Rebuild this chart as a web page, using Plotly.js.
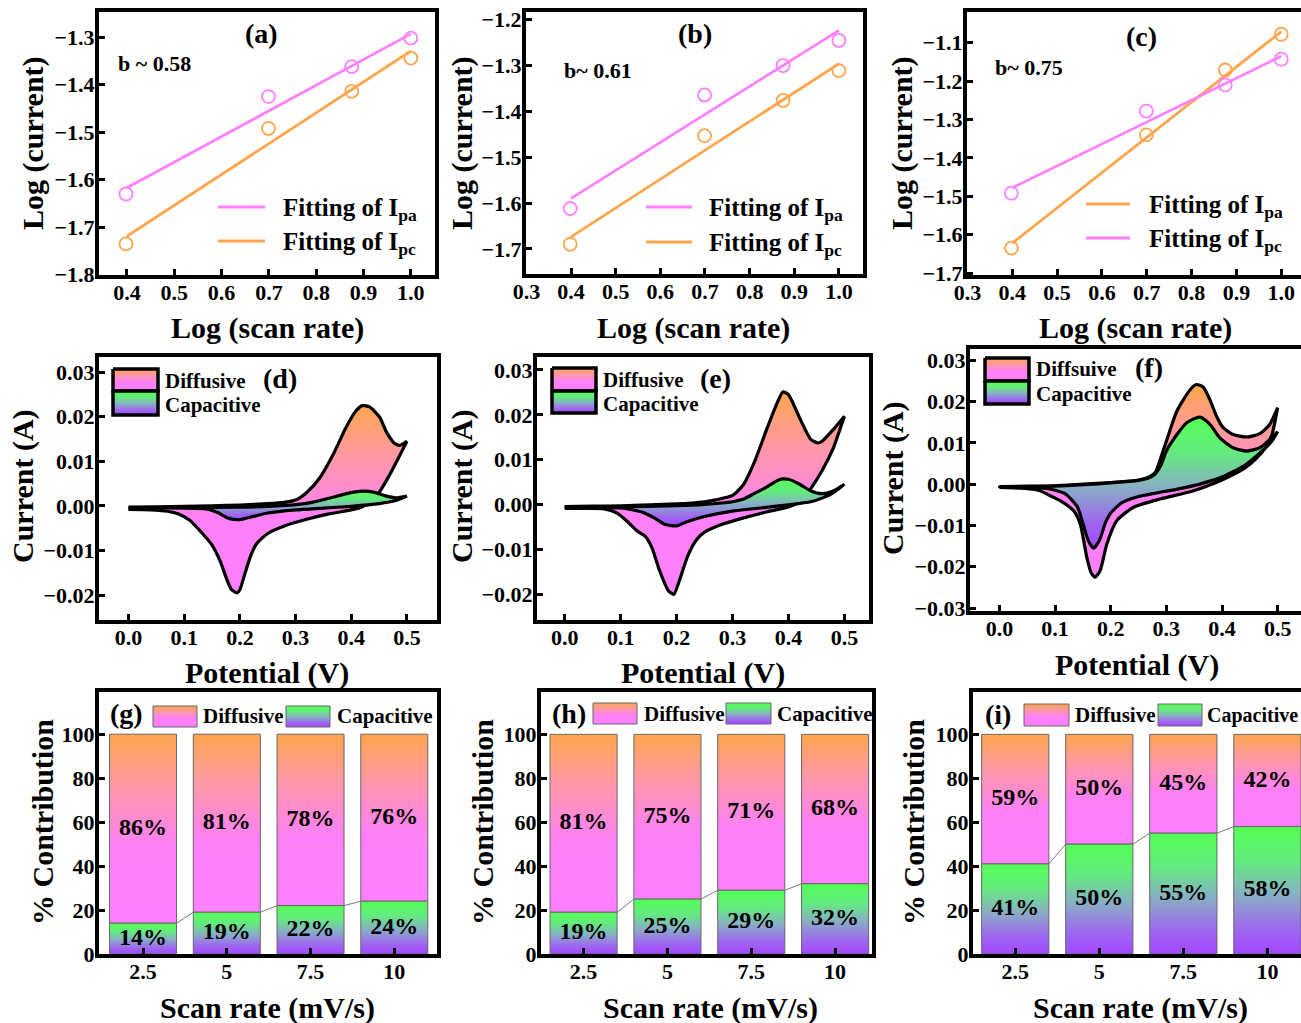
<!DOCTYPE html>
<html><head><meta charset="utf-8">
<script src="https://cdn.plot.ly/plotly-3.0.1.min.js"></script>
<style>html,body{margin:0;padding:0;background:#fff}</style>
</head><body><div id="chart" style="width:1301px;height:1023px"></div>
<script>
// ---------------- DATA ----------------
// (a)-(c): log(scan rate) vs log(peak current)
const logRate = [0.398, 0.699, 0.875, 1.0];
const fitEnds = [0.4, 1.0];
const aIpa = [-1.630, -1.425, -1.362, -1.302];
const aIpc = [-1.735, -1.492, -1.414, -1.344];
const aFitIpa = [-1.617, -1.293];
const aFitIpc = [-1.719, -1.329];
const bIpa = [-1.612, -1.364, -1.300, -1.245];
const bIpc = [-1.690, -1.453, -1.376, -1.311];
const bFitIpa = [-1.590, -1.223];
const bFitIpc = [-1.674, -1.296];
const cIpa = [-1.635, -1.340, -1.171, -1.078];
const cIpc = [-1.492, -1.278, -1.210, -1.143];
const cFitIpa = [-1.622, -1.071];
const cFitIpc = [-1.478, -1.135];
const bLabels = ['b ~ 0.58', 'b~ 0.61', 'b~ 0.75'];

// (d) CV: total (upper / lower branch) and capacitive loop
const dUpV = [0.00, 0.05, 0.10, 0.15, 0.20, 0.25, 0.28, 0.30, 0.32, 0.343, 0.367, 0.391, 0.409, 0.42, 0.433, 0.451, 0.463, 0.478, 0.487, 0.50];
const dUpI = [-0.0003, -0.0002, -0.0001, 0.0000, 0.0002, 0.0005, 0.0008, 0.0013, 0.0030, 0.0062, 0.0114, 0.0177, 0.0214, 0.0225, 0.0222, 0.0199, 0.0166, 0.0140, 0.0136, 0.0145];
const dLoV = [0.50, 0.49, 0.48, 0.47, 0.46, 0.45, 0.44, 0.42, 0.40, 0.36, 0.32, 0.28, 0.25, 0.23, 0.22, 0.21, 0.20, 0.195, 0.185, 0.175, 0.165, 0.15, 0.13, 0.11, 0.09, 0.07, 0.04, 0.00];
const dLoI = [0.0145, 0.0120, 0.0096, 0.0072, 0.0050, 0.0030, 0.0015, -0.0002, -0.0009, -0.0018, -0.0030, -0.0045, -0.0062, -0.0085, -0.0110, -0.0148, -0.0188, -0.0195, -0.0188, -0.0160, -0.0125, -0.0088, -0.0058, -0.0032, -0.0018, -0.0012, -0.0009, -0.0008];
const dCapUpV = [0.00, 0.10, 0.20, 0.25, 0.30, 0.33, 0.36, 0.39, 0.42, 0.44, 0.46, 0.48, 0.50];
const dCapUpI = [-0.0004, -0.0004, -0.0003, -0.0001, 0.0003, 0.0008, 0.0017, 0.0027, 0.0033, 0.0031, 0.0023, 0.0018, 0.0022];
const dCapLoV = [0.50, 0.48, 0.45, 0.40, 0.35, 0.30, 0.25, 0.22, 0.20, 0.18, 0.16, 0.14, 0.10, 0.00];
const dCapLoI = [0.0022, 0.0012, 0.0005, -0.0001, -0.0005, -0.0009, -0.0016, -0.0025, -0.0031, -0.0028, -0.0015, -0.0007, -0.0005, -0.0005];

// (e)
const eUpV = [0.00, 0.05, 0.10, 0.15, 0.20, 0.25, 0.27, 0.30, 0.32, 0.34, 0.36, 0.38, 0.39, 0.40, 0.42, 0.44, 0.453, 0.46, 0.48, 0.50];
const eUpI = [-0.0005, -0.0004, -0.0003, -0.0001, 0.0001, 0.0006, 0.0010, 0.0020, 0.0045, 0.0097, 0.0164, 0.0227, 0.0251, 0.0245, 0.0193, 0.0145, 0.0137, 0.0141, 0.0167, 0.0197];
const eLoV = [0.50, 0.49, 0.48, 0.46, 0.44, 0.43, 0.42, 0.40, 0.36, 0.32, 0.28, 0.25, 0.235, 0.22, 0.205, 0.195, 0.185, 0.17, 0.156, 0.144, 0.129, 0.111, 0.093, 0.07, 0.04, 0.00];
const eLoI = [0.0197, 0.0160, 0.0125, 0.0075, 0.0035, 0.0018, 0.0006, -0.0006, -0.0017, -0.0030, -0.0045, -0.0062, -0.0080, -0.0115, -0.0170, -0.0201, -0.0192, -0.0149, -0.0097, -0.0071, -0.0059, -0.0037, -0.0019, -0.0010, -0.0009, -0.0009];
const eCapUpV = [0.00, 0.10, 0.20, 0.25, 0.30, 0.32, 0.34, 0.36, 0.38, 0.39, 0.40, 0.42, 0.44, 0.46, 0.48, 0.50];
const eCapUpI = [-0.0005, -0.0005, -0.0003, 0.0000, 0.0006, 0.0012, 0.0025, 0.0038, 0.0053, 0.0057, 0.0056, 0.0045, 0.0030, 0.0024, 0.0030, 0.0045];
const eCapLoV = [0.50, 0.48, 0.46, 0.44, 0.40, 0.35, 0.30, 0.25, 0.22, 0.20, 0.18, 0.16, 0.14, 0.12, 0.10, 0.00];
const eCapLoI = [0.0045, 0.0026, 0.0014, 0.0006, -0.0001, -0.0008, -0.0015, -0.0027, -0.0038, -0.0048, -0.0045, -0.0030, -0.0018, -0.0012, -0.0008, -0.0006];

// (f)
const fUpV = [0.00, 0.05, 0.10, 0.15, 0.20, 0.25, 0.27, 0.28, 0.292, 0.30, 0.319, 0.343, 0.354, 0.366, 0.378, 0.39, 0.402, 0.42, 0.444, 0.468, 0.486, 0.50];
const fUpI = [-0.0006, -0.0005, -0.0004, 0.0000, 0.0004, 0.0010, 0.0018, 0.0028, 0.0072, 0.0104, 0.0177, 0.0229, 0.0241, 0.0235, 0.0205, 0.0165, 0.0137, 0.0120, 0.0114, 0.0122, 0.0145, 0.0185];
const fLoV = [0.50, 0.495, 0.49, 0.48, 0.46, 0.44, 0.42, 0.40, 0.349, 0.289, 0.241, 0.211, 0.193, 0.181, 0.172, 0.165, 0.157, 0.145, 0.133, 0.109, 0.091, 0.07, 0.04, 0.00];
const fLoI = [0.0185, 0.0150, 0.0120, 0.0092, 0.0060, 0.0038, 0.0023, 0.0010, -0.0016, -0.0036, -0.0056, -0.0088, -0.0145, -0.0209, -0.0225, -0.0215, -0.0177, -0.0096, -0.0064, -0.0040, -0.0028, -0.0015, -0.0010, -0.0008];
const fCapUpV = [0.00, 0.10, 0.20, 0.25, 0.27, 0.28, 0.29, 0.30, 0.319, 0.337, 0.36, 0.378, 0.396, 0.42, 0.444, 0.468, 0.492, 0.50];
const fCapUpI = [-0.0007, -0.0005, 0.0003, 0.0009, 0.0016, 0.0025, 0.0045, 0.0080, 0.0120, 0.0149, 0.0162, 0.0145, 0.0112, 0.0088, 0.0080, 0.0088, 0.0116, 0.0127];
const fCapLoV = [0.50, 0.49, 0.48, 0.46, 0.44, 0.42, 0.40, 0.36, 0.32, 0.28, 0.25, 0.22, 0.20, 0.19, 0.18, 0.169, 0.16, 0.15, 0.14, 0.12, 0.10, 0.08, 0.00];
const fCapLoI = [0.0127, 0.0105, 0.0090, 0.0066, 0.0045, 0.0030, 0.0017, 0.0000, -0.0012, -0.0022, -0.0030, -0.0045, -0.0070, -0.0095, -0.0135, -0.0155, -0.0138, -0.0095, -0.0055, -0.0025, -0.0015, -0.0010, -0.0007];

// (g)-(i): % contribution
const rateLabels = ['2.5', '5', '7.5', '10'];
const gDiff = [86, 81, 78, 76];
const gCap  = [14, 19, 22, 24];
const hDiff = [81, 75, 71, 68];
const hCap  = [19, 25, 29, 32];
const iDiff = [59, 50, 45, 42];
const iCap  = [41, 50, 55, 58];

// ---------------- STYLE / LAYOUT ----------------
const W = 1301, H = 1023;
const FONT = 'Liberation Serif';
const PINK = '#FF80FF', ORANGE = '#FFA64D';
const diffScale = [[0, '#FF80FF'], [0.4, '#FF80F8'], [0.72, '#FF98A8'], [1, '#FFA64D']];
const capScale  = [[0, '#A347FF'], [0.2, '#9E68F0'], [0.47, '#88B0C4'], [0.72, '#64EA80'], [1, '#55FF55']];

function aid(n) { return n === 1 ? '' : String(n); }
const boxes = {
  1: {x: [99, 435],  y: [12, 275],  xr: [0.341, 1.051], yr: [-1.8005, -1.247]},
  2: {x: [526, 863], y: [12, 274],  xr: [0.299, 1.054], yr: [-1.755, -1.183]},
  3: {x: [967, 1301], y: [12, 275], xr: [0.299, 1.044], yr: [-1.705, -1.02]},
  4: {x: [99, 437],  y: [357, 620], xr: [-0.053, 0.554], yr: [-0.0256, 0.0334]},
  5: {x: [537, 869], y: [357, 620], xr: [-0.0495, 0.544], yr: [-0.0258, 0.0329]},
  6: {x: [970, 1301], y: [349, 611], xr: [-0.053, 0.542], yr: [-0.0307, 0.0327]},
  7: {x: [99, 437],  y: [692, 954], xr: [-0.526, 3.51], yr: [-0.01, 119.2]},
  8: {x: [541, 872], y: [692, 954], xr: [-0.508, 3.44], yr: [-0.01, 119.3]},
  9: {x: [973, 1301], y: [692, 954], xr: [-0.503, 3.40], yr: [-0.01, 119.3]}
};
const tickFont = {family: FONT, size: 22, color: 'black', weight: 'bold'};
const layout = {
  width: W, height: H, margin: {l: 0, r: 0, t: 0, b: 0},
  paper_bgcolor: 'white', plot_bgcolor: 'rgba(0,0,0,0)',
  showlegend: false, hovermode: false,
  annotations: [], shapes: []
};
for (let n = 1; n <= 9; n++) {
  const b = boxes[n];
  const common = {showline: true, linewidth: 4, linecolor: 'black', mirror: true,
    ticks: 'inside', ticklen: 6, tickwidth: 3, tickcolor: 'black',
    showgrid: false, zeroline: false, tickfont: tickFont, fixedrange: true};
  const xa = Object.assign({}, common, {domain: [b.x[0] / W, b.x[1] / W], range: b.xr, anchor: 'y' + aid(n), ticklabelstandoff: -5});
  const ya = Object.assign({}, common, {domain: [1 - b.y[1] / H, 1 - b.y[0] / H], range: b.yr, anchor: 'x' + aid(n), ticklabelstandoff: -4});
  if (n <= 3) { xa.dtick = 0.1; xa.tick0 = 0; xa.tickformat = '.1f'; ya.dtick = 0.1; ya.tick0 = 0; ya.tickformat = '.1f'; }
  else if (n <= 6) { xa.dtick = 0.1; xa.tick0 = 0; xa.tickformat = '.1f'; ya.dtick = 0.01; ya.tick0 = 0; ya.tickformat = '.2f'; }
  else { xa.tickmode = 'array'; xa.tickvals = rateLabels.map((r, i) => i); xa.ticktext = rateLabels; ya.dtick = 20; ya.tick0 = 0; }
  layout['xaxis' + aid(n)] = xa;
  layout['yaxis' + aid(n)] = ya;
}
// overlay pixel axes for legend keys
layout.xaxis10 = {domain: [0, 1], range: [0, W], visible: false, fixedrange: true, anchor: 'y10'};
layout.yaxis10 = {domain: [0, 1], range: [0, H], visible: false, fixedrange: true, anchor: 'x10'};
const PY = py => H - py;

function ann(text, x, y, size, opts) {
  layout.annotations.push(Object.assign({text: text, x: x, y: PY(y), xref: 'x10', yref: 'y10', showarrow: false,
    font: {family: FONT, size: size, color: 'black', weight: 'bold'}, xanchor: 'center', yanchor: 'middle'}, opts || {}));
}

const traces = [];

// ---- (a)-(c) ----
function logPanel(n, ipa, ipc, fitA, fitC, colA, colC) {
  const xa = 'x' + aid(n), ya = 'y' + aid(n);
  traces.push({type: 'scatter', mode: 'lines', x: fitEnds, y: fitA, xaxis: xa, yaxis: ya, line: {color: colA, width: 2.8}});
  traces.push({type: 'scatter', mode: 'lines', x: fitEnds, y: fitC, xaxis: xa, yaxis: ya, line: {color: colC, width: 2.8}});
  traces.push({type: 'scatter', mode: 'markers', x: logRate, y: ipa, xaxis: xa, yaxis: ya,
    marker: {symbol: 'circle-open', size: 13, color: colA, line: {width: 1.8, color: colA}}});
  traces.push({type: 'scatter', mode: 'markers', x: logRate, y: ipc, xaxis: xa, yaxis: ya,
    marker: {symbol: 'circle-open', size: 13, color: colC, line: {width: 1.8, color: colC}}});
}
logPanel(1, aIpa, aIpc, aFitIpa, aFitIpc, PINK, ORANGE);
logPanel(2, bIpa, bIpc, bFitIpa, bFitIpc, PINK, ORANGE);
logPanel(3, cIpa, cIpc, cFitIpa, cFitIpc, ORANGE, PINK);

// legend keys (a)-(c)
function legLine(x0, x1, y, col) {
  layout.shapes.push({type: 'line', xref: 'x10', yref: 'y10', x0: x0, x1: x1, y0: PY(y), y1: PY(y), line: {color: col, width: 3}});
}
legLine(218, 265, 207, PINK);  legLine(218, 265, 241, ORANGE);
legLine(646, 692, 207, PINK);  legLine(646, 692, 242, ORANGE);
legLine(1086, 1130, 204, ORANGE); legLine(1086, 1130, 238, PINK);
ann('Fitting of I<sub>pa</sub>', 281, 209, 25, {xanchor: 'left'});
ann('Fitting of I<sub>pc</sub>', 281, 243, 25, {xanchor: 'left'});
ann('Fitting of I<sub>pa</sub>', 707, 209, 25, {xanchor: 'left'});
ann('Fitting of I<sub>pc</sub>', 707, 244, 25, {xanchor: 'left'});
ann('Fitting of I<sub>pa</sub>', 1147, 206, 25, {xanchor: 'left'});
ann('Fitting of I<sub>pc</sub>', 1147, 240, 25, {xanchor: 'left'});
ann('(a)', 261, 33, 28); ann('(b)', 695, 33, 28); ann('(c)', 1141, 36, 28);
ann(bLabels[0], 154, 63, 22); ann(bLabels[1], 598, 70, 22); ann(bLabels[2], 1029, 67, 22);

// ---- (d)-(f) CV ----
function cvLoop(n, upV, upI, loV, loI, scale) {
  traces.push({type: 'scatter', mode: 'lines', x: upV.concat(loV), y: upI.concat(loI),
    xaxis: 'x' + aid(n), yaxis: 'y' + aid(n), fill: 'toself',
    fillgradient: {type: 'vertical', colorscale: scale},
    line: {color: 'black', width: 3.2, shape: 'spline', smoothing: 0.6}});
}
cvLoop(4, dUpV, dUpI, dLoV, dLoI, diffScale);
cvLoop(4, dCapUpV, dCapUpI, dCapLoV, dCapLoI, capScale);
cvLoop(5, eUpV, eUpI, eLoV, eLoI, diffScale);
cvLoop(5, eCapUpV, eCapUpI, eCapLoV, eCapLoI, capScale);
cvLoop(6, fUpV, fUpI, fLoV, fLoI, diffScale);
cvLoop(6, fCapUpV, fCapUpI, fCapLoV, fCapLoI, capScale);

function swatch(x0, x1, y0, y1, scale, lc, lw) {
  traces.push({type: 'scatter', mode: 'lines', xaxis: 'x10', yaxis: 'y10',
    x: [x0, x1, x1, x0, x0], y: [PY(y0), PY(y0), PY(y1), PY(y1), PY(y0)],
    fill: 'toself', fillgradient: {type: 'vertical', colorscale: scale}, line: {color: lc, width: lw}});
}
// (d)
swatch(113, 158, 369, 391, diffScale, 'black', 3.5); swatch(113, 158, 391, 415, capScale, 'black', 3.5);
ann('Diffusive', 163, 381, 21, {xanchor: 'left'}); ann('Capacitive', 163, 405, 21, {xanchor: 'left'});
ann('(d)', 280, 378, 28);
// (e)
swatch(552, 596, 368, 391, diffScale, 'black', 3.5); swatch(552, 596, 391, 413, capScale, 'black', 3.5);
ann('Diffusive', 601, 380, 21, {xanchor: 'left'}); ann('Capacitive', 601, 404, 21, {xanchor: 'left'});
ann('(e)', 715, 378, 28);
// (f)
swatch(985, 1029, 358, 381, diffScale, 'black', 3.5); swatch(985, 1029, 381, 404, capScale, 'black', 3.5);
ann('Diffsuive', 1034, 369, 21, {xanchor: 'left'}); ann('Capacitive', 1034, 394, 21, {xanchor: 'left'});
ann('(f)', 1149, 367, 28);

// ---- (g)-(i) bars ----
const HW = 0.4;
function barPanel(n, diff, cap) {
  const xa = 'x' + aid(n), ya = 'y' + aid(n);
  rateLabels.forEach((r, i) => {
    const c = cap[i], d = diff[i];
    traces.push({type: 'scatter', mode: 'lines', xaxis: xa, yaxis: ya,
      x: [i - HW, i + HW, i + HW, i - HW, i - HW], y: [c, c, c + d, c + d, c],
      fill: 'toself', fillgradient: {type: 'vertical', colorscale: diffScale}, line: {color: '#666', width: 1}});
    traces.push({type: 'scatter', mode: 'lines', xaxis: xa, yaxis: ya,
      x: [i - HW, i + HW, i + HW, i - HW, i - HW], y: [0, 0, c, c, 0],
      fill: 'toself', fillgradient: {type: 'vertical', colorscale: capScale}, line: {color: '#666', width: 1}});
  });
  const cx = [], cy = [];
  for (let i = 0; i < cap.length - 1; i++) { cx.push(i + HW, i + 1 - HW, null); cy.push(cap[i], cap[i + 1], null); }
  traces.push({type: 'scatter', mode: 'lines', xaxis: xa, yaxis: ya, x: cx, y: cy, line: {color: '#777', width: 1}});
  const idx = rateLabels.map((r, i) => i);
  const tf = {family: FONT, size: 24, color: 'black', weight: 'bold'};
  traces.push({type: 'scatter', mode: 'text', xaxis: xa, yaxis: ya, x: idx, y: cap.map(c => c / 2),
    text: cap.map(c => c + '%'), textposition: 'middle center', textfont: tf, cliponaxis: false});
  traces.push({type: 'scatter', mode: 'text', xaxis: xa, yaxis: ya, x: idx, y: diff.map((d, i) => cap[i] + d / 2),
    text: diff.map(d => d + '%'), textposition: 'middle center', textfont: tf, cliponaxis: false});
}
barPanel(7, gDiff, gCap);
barPanel(8, hDiff, hCap);
barPanel(9, iDiff, iCap);

swatch(153, 197, 706, 727, diffScale, '#666', 1); swatch(286, 330, 706, 727, capScale, '#666', 1);
ann('(g)', 126, 713, 28); ann('Diffusive', 201, 716, 21, {xanchor: 'left'}); ann('Capacitive', 335, 716, 21, {xanchor: 'left'});
swatch(593, 637, 703, 724, diffScale, '#666', 1); swatch(726, 771, 703, 724, capScale, '#666', 1);
ann('(h)', 569, 713, 28); ann('Diffusive', 642, 714, 21, {xanchor: 'left'}); ann('Capacitive', 775, 714, 21, {xanchor: 'left'});
swatch(1024, 1069, 704, 726, diffScale, '#666', 1); swatch(1158, 1202, 704, 726, capScale, '#666', 1);
ann('(i)', 998, 714, 28); ann('Diffusive', 1073, 715, 21, {xanchor: 'left'}); ann('Capacitive', 1205, 715, 20, {xanchor: 'left'});

// ---- axis titles ----
const T = 30;
ann('Log (current)', 33, 143, T, {textangle: -90});
ann('Log (current)', 462, 143, T, {textangle: -90});
ann('Log (current)', 902, 143, T, {textangle: -90});
ann('Log (scan rate)', 267, 328, T); ann('Log (scan rate)', 693, 328, T); ann('Log (scan rate)', 1135, 328, T);
ann('Current (A)', 23, 486, T, {textangle: -90});
ann('Current (A)', 462, 486, T, {textangle: -90});
ann('Current (A)', 893, 478, T, {textangle: -90});
ann('Potential (V)', 267, 673, T); ann('Potential (V)', 703, 673, T); ann('Potential (V)', 1137, 665, T);
ann('% Contribution', 42, 822, T, {textangle: -90});
ann('% Contribution', 482, 822, T, {textangle: -90});
ann('% Contribution', 913, 822, T, {textangle: -90});
ann('Scan rate (mV/s)', 267, 1008, T); ann('Scan rate (mV/s)', 710, 1008, T); ann('Scan rate (mV/s)', 1140, 1008, T);

traces.forEach(t => { t.showlegend = false; t.hoverinfo = 'skip'; });
Plotly.newPlot('chart', traces, layout, {staticPlot: true, displayModeBar: false});
</script>
</body></html>
